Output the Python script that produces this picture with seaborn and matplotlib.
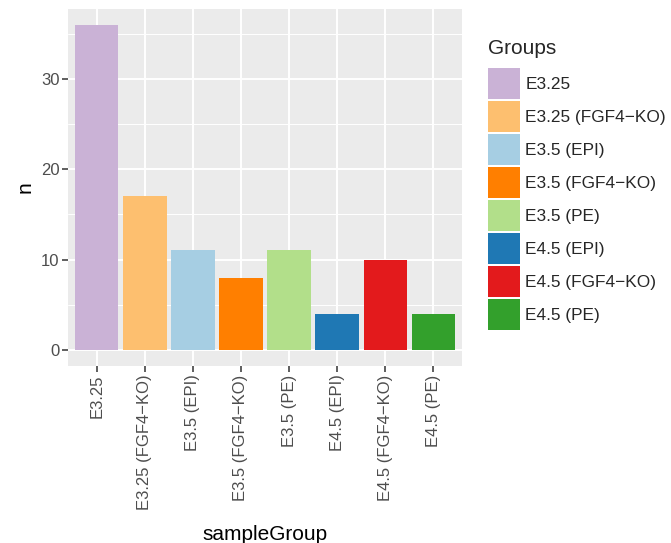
import matplotlib
matplotlib.use("Agg")
import matplotlib.pyplot as plt
from matplotlib.patches import Patch
from matplotlib.ticker import MultipleLocator
import pandas as pd
import seaborn as sns

# counts per sample group
groups = ["E3.25", "E3.25 (FGF4\u2212KO)", "E3.5 (EPI)", "E3.5 (FGF4\u2212KO)",
          "E3.5 (PE)", "E4.5 (EPI)", "E4.5 (FGF4\u2212KO)", "E4.5 (PE)"]
counts = [36, 17, 11, 8, 11, 4, 10, 4]
colors = ["#CAB2D6", "#FDBF6F", "#A6CEE3", "#FF7F00",
          "#B2DF8A", "#1F78B4", "#E31A1C", "#33A02C"]

df = pd.DataFrame({"sampleGroup": groups, "n": counts})

sns.set_style("darkgrid")
plt.rcParams["font.family"] = ["Liberation Sans", "DejaVu Sans"]

fig = plt.figure(figsize=(6.71, 5.43), dpi=100)
ax = fig.add_axes([68 / 671, 1 - 366 / 543, 394 / 671, 357.4 / 543])
ax.set_facecolor("#EBEBEB")

sns.barplot(data=df, x="sampleGroup", y="n", hue="sampleGroup",
            palette=dict(zip(groups, colors)), order=groups, hue_order=groups,
            width=0.9, dodge=False, legend=False, saturation=1, ax=ax,
            edgecolor="none", linewidth=0)

ax.set_xlim(-0.6, len(groups) - 0.4)
ax.set_ylim(-1.8, 37.8)
ax.yaxis.set_major_locator(MultipleLocator(10))
ax.yaxis.set_minor_locator(MultipleLocator(5))
ax.grid(which="major", color="white", linewidth=1.4)
ax.grid(which="minor", axis="y", color="white", linewidth=0.7)
ax.set_axisbelow(True)
for s in ax.spines.values():
    s.set_visible(False)

ax.tick_params(axis="both", which="major", bottom=True, left=True, length=4,
               width=1.1, color="#333333", labelcolor="#4D4D4D", labelsize=12, pad=2)
ax.tick_params(axis="both", which="minor", length=0)
ax.set_xticks(range(len(groups)))
ax.set_xticklabels(groups, rotation=90, ha="center", va="top")
ax.set_xlabel("sampleGroup", fontsize=15, color="black", labelpad=11)
ax.set_ylabel("n", fontsize=15, color="black", labelpad=5)

handles = [Patch(facecolor=c, edgecolor="none", label=g) for g, c in zip(groups, colors)]
leg = fig.legend(handles=handles, title="Groups", loc="upper left",
                 bbox_to_anchor=(488 / 671, 1 - 39 / 543), frameon=False,
                 fontsize=12.4, title_fontsize=15, handlelength=1.86,
                 handleheight=2.39, labelspacing=0.12, handletextpad=0.3,
                 borderpad=0, borderaxespad=0)
leg._legend_box.align = "left"
leg._legend_box.sep = 7

fig.savefig("out.png", dpi=100)
